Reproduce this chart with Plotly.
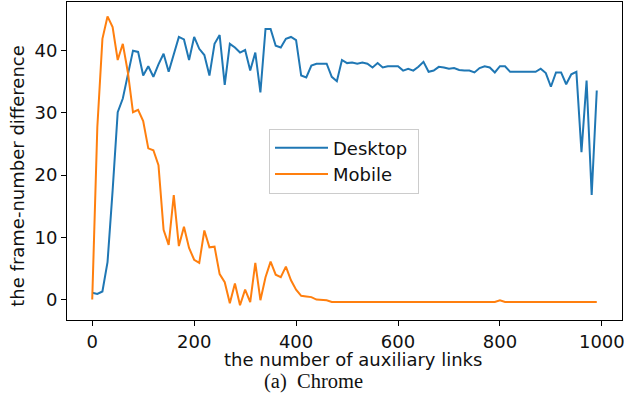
import plotly.graph_objects as go

links = list(range(0, 1000, 10))

desktop = [1.1, 0.9, 1.3, 6.0, 17.5, 30.1, 32.3, 36.3, 40.0, 39.8,
           36.0, 37.5, 35.8, 37.8, 39.5, 36.6, 39.2, 42.2, 41.8, 38.5,
           42.2, 40.3, 39.3, 36.0, 41.1, 42.5, 34.5, 41.1, 40.5, 39.7,
           40.1, 36.8, 39.7, 33.3, 43.5, 43.5, 40.8, 40.5, 41.9, 42.2,
           41.7, 36.0, 35.7, 37.6, 37.9, 37.9, 37.9, 35.8, 35.1, 38.5,
           38.0, 38.1, 37.9, 38.1, 37.9, 37.3, 38.0, 37.3, 37.5, 37.5,
           37.5, 36.8, 37.1, 36.8, 37.4, 38.2, 36.6, 36.8, 37.4, 37.3,
           37.1, 37.2, 36.9, 36.8, 36.8, 36.5, 37.2, 37.5, 37.3, 36.5,
           37.5, 37.5, 36.6, 36.6, 36.6, 36.6, 36.6, 36.6, 37.1, 36.4,
           34.2, 36.5, 36.5, 34.6, 36.2, 36.6, 23.7, 35.2, 16.8, 33.6]

mobile = [0.0, 27.7, 41.9, 45.5, 43.8, 38.5, 41.1, 36.5, 30.1, 30.5,
          28.7, 24.3, 24.0, 21.6, 11.2, 8.8, 16.8, 8.6, 11.7, 8.3,
          6.4, 5.9, 11.1, 8.4, 8.5, 4.1, 2.8, -0.6, 2.6, -0.9,
          1.6, -0.4, 5.9, -0.1, 3.6, 6.1, 4.0, 3.6, 5.3, 3.1,
          1.6, 0.6, 0.5, 0.4, 0.0, -0.1, -0.1, -0.37, -0.37, -0.37,
          -0.37, -0.37, -0.37, -0.37, -0.37, -0.37, -0.37, -0.37, -0.37, -0.37,
          -0.37, -0.37, -0.37, -0.37, -0.37, -0.37, -0.37, -0.37, -0.37, -0.37,
          -0.37, -0.37, -0.37, -0.37, -0.37, -0.37, -0.37, -0.37, -0.37, -0.37,
          -0.1, -0.37, -0.37, -0.37, -0.37, -0.37, -0.37, -0.37, -0.37, -0.37,
          -0.37, -0.37, -0.37, -0.37, -0.37, -0.37, -0.37, -0.37, -0.37, -0.37]

x_ticks = [0, 200, 400, 600, 800, 1000]
y_ticks = [0, 10, 20, 30, 40]

FONT = "DejaVu Sans"

fig = go.Figure()
fig.add_trace(go.Scatter(x=links, y=desktop, mode="lines", name="Desktop\u00a0",
                         line=dict(color="#1f77b4", width=2)))
fig.add_trace(go.Scatter(x=links, y=mobile, mode="lines", name="Mobile",
                         line=dict(color="#ff7f0e", width=2)))

axis_common = dict(showgrid=False, zeroline=False, showline=True, linecolor="black",
                   linewidth=1, mirror=True, ticks="outside", ticklen=5, tickwidth=1,
                   tickcolor="black", automargin=False, ticklabeloverflow="allow",
                   tickfont=dict(family=FONT, size=18, color="#111"))

fig.update_xaxes(range=[-49.5, 1039.5], tickvals=x_ticks, **axis_common)
fig.update_yaxes(range=[-3.28, 47.82], tickvals=y_ticks, **axis_common)

fig.update_layout(
    width=624, height=407,
    margin=dict(l=67, r=2, t=2, b=87),
    plot_bgcolor="white", paper_bgcolor="white",
    showlegend=True,
    legend=dict(x=(269 - 67) / 555, y=(320 - 128.5) / 318, xanchor="left", yanchor="top",
                bgcolor="white", bordercolor="#cccccc", borderwidth=1,
                font=dict(family=FONT, size=18, color="#111"),
                itemwidth=53),
    annotations=[
        dict(text="the number of auxiliary links", xref="paper", yref="paper",
             x=(353 - 67) / 555, y=(320 - 359) / 318, xanchor="center", yanchor="middle",
             showarrow=False, font=dict(family=FONT, size=18, color="#111")),
        dict(text="the frame-number difference", xref="paper", yref="paper",
             x=(18 - 67) / 555, y=(320 - 176.7) / 318, xanchor="center", yanchor="middle",
             textangle=-90, showarrow=False, font=dict(family=FONT, size=18, color="#111")),
        dict(text="(a)  Chrome", xref="paper", yref="paper",
             x=(313 - 67) / 555, y=(320 - 381) / 318, xanchor="center", yanchor="middle",
             showarrow=False, font=dict(family="Liberation Serif", size=20.5, color="#111")),
    ],
)

post = (
    "var s=document.createElement('style');"
    "s.textContent='html,body{margin:0!important;padding:0!important;overflow:hidden!important;}"
    "::-webkit-scrollbar{display:none;width:0;height:0;}';"
    "document.head.appendChild(s);"
)
fig.write_html("out.html", post_script=post, config={"displayModeBar": False})
